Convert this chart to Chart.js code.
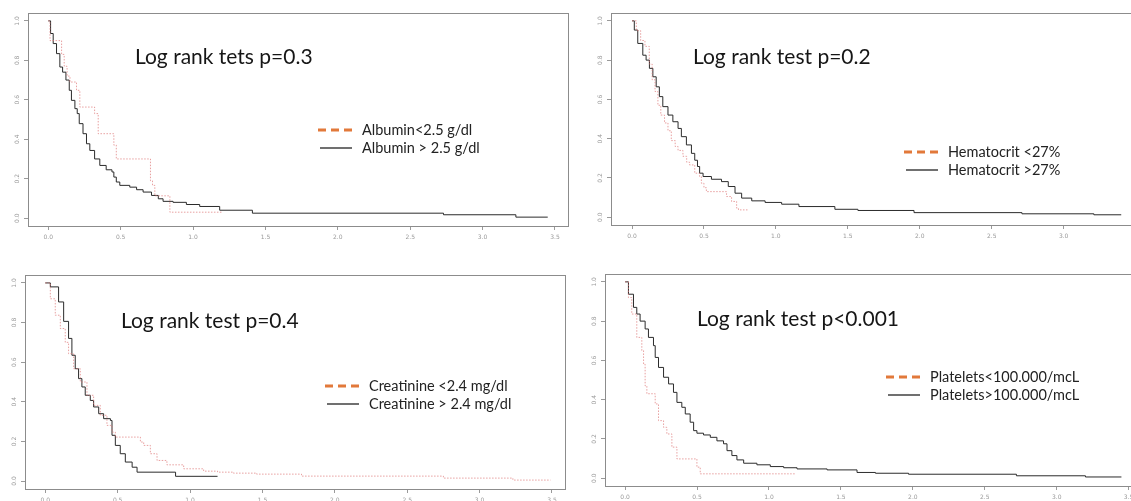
<!DOCTYPE html>
<html>
<head>
<meta charset="utf-8">
<script src="https://cdn.jsdelivr.net/npm/chart.js@4"></script>
<style>
  html, body { margin: 0; padding: 0; background: #fff; overflow: hidden; width: 1131px; height: 501px; }
  canvas { position: absolute; }
  .note { position: absolute; font-family: Lato, "Open Sans", sans-serif; color: #161616; white-space: nowrap; }
  .title { font-size: 21px; line-height: 24px; }
  .leg { font-size: 14.5px; line-height: 16px; color: #222; }
  svg { position: absolute; overflow: visible; }
</style>
</head>
<body>
<script>
// shared axis ticks
const xTicks = [0, 0.5, 1, 1.5, 2, 2.5, 3, 3.5];
const yTicks = [0, 0.2, 0.4, 0.6, 0.8, 1];

const titles = ['Log rank tets p=0.3', 'Log rank test p=0.2', 'Log rank test p=0.4', 'Log rank test p<0.001'];
const lowLabels = ['Albumin<2.5 g/dl', 'Hematocrit <27%', 'Creatinine <2.4 mg/dl', 'Platelets<100.000/mcL'];
const highLabels = ['Albumin > 2.5 g/dl', 'Hematocrit >27%', 'Creatinine > 2.4 mg/dl', 'Platelets>100.000/mcL'];

// Albumin
const albLowT = [0, 0.012, 0.092, 0.11, 0.13, 0.15, 0.195, 0.218, 0.32, 0.345, 0.453, 0.47, 0.706, 0.72, 0.736, 0.84, 1.2];
const albLowS = [1, 0.9, 0.83, 0.77, 0.72, 0.69, 0.648, 0.563, 0.53, 0.428, 0.37, 0.30, 0.19, 0.166, 0.113, 0.03, 0.03];
const albHighT = [0, 0.016, 0.034, 0.057, 0.08, 0.099, 0.122, 0.145, 0.16, 0.184, 0.2, 0.214, 0.24, 0.264, 0.287, 0.32, 0.356, 0.40, 0.44, 0.453, 0.47, 0.494, 0.563, 0.61, 0.655, 0.713, 0.76, 0.793, 0.862, 0.954, 1.046, 1.184, 1.41, 2.73, 3.23, 3.45];
const albHighS = [1, 0.936, 0.885, 0.834, 0.766, 0.74, 0.70, 0.648, 0.597, 0.555, 0.53, 0.479, 0.428, 0.377, 0.343, 0.30, 0.267, 0.245, 0.234, 0.208, 0.183, 0.166, 0.157, 0.144, 0.132, 0.115, 0.098, 0.085, 0.080, 0.069, 0.059, 0.04, 0.025, 0.017, 0.005, 0.005];

// Hematocrit
const hctLowT = [0, 0.03, 0.06, 0.09, 0.12, 0.14, 0.16, 0.18, 0.2, 0.226, 0.25, 0.273, 0.3, 0.32, 0.354, 0.38, 0.40, 0.436, 0.47, 0.482, 0.50, 0.517, 0.657, 0.692, 0.727, 0.74, 0.81];
const hctLowS = [1, 0.95, 0.9, 0.87, 0.78, 0.7, 0.64, 0.57, 0.52, 0.48, 0.44, 0.39, 0.36, 0.34, 0.31, 0.28, 0.266, 0.224, 0.207, 0.173, 0.15, 0.13, 0.105, 0.08, 0.046, 0.037, 0.037];
const hctHighT = [0, 0.016, 0.04, 0.075, 0.098, 0.121, 0.145, 0.168, 0.19, 0.214, 0.25, 0.284, 0.32, 0.343, 0.378, 0.413, 0.436, 0.455, 0.47, 0.494, 0.552, 0.622, 0.669, 0.716, 0.762, 0.832, 0.925, 1.04, 1.16, 1.41, 1.57, 1.96, 2.71, 3.21, 3.4];
const hctHighS = [1, 0.953, 0.885, 0.825, 0.8, 0.758, 0.715, 0.664, 0.614, 0.563, 0.52, 0.486, 0.452, 0.41, 0.368, 0.325, 0.29, 0.258, 0.224, 0.207, 0.193, 0.181, 0.156, 0.122, 0.097, 0.083, 0.075, 0.066, 0.054, 0.04, 0.034, 0.023, 0.017, 0.012, 0.012];

// Creatinine
const creLowT = [0, 0.035, 0.069, 0.104, 0.138, 0.161, 0.196, 0.242, 0.288, 0.334, 0.38, 0.426, 0.461, 0.484, 0.657, 0.68, 0.726, 0.772, 0.84, 0.956, 1.094, 1.19, 1.3, 1.46, 1.77, 2.75, 3.23, 3.49];
const creLowS = [1, 0.92, 0.837, 0.77, 0.70, 0.643, 0.567, 0.50, 0.433, 0.382, 0.332, 0.281, 0.247, 0.222, 0.197, 0.18, 0.138, 0.104, 0.082, 0.062, 0.05, 0.045, 0.04, 0.035, 0.025, 0.015, 0.005, 0.005];
const creHighT = [0, 0.035, 0.092, 0.127, 0.161, 0.184, 0.207, 0.23, 0.253, 0.276, 0.311, 0.334, 0.369, 0.403, 0.45, 0.461, 0.484, 0.518, 0.553, 0.6, 0.634, 0.9, 1.19];
const creHighS = [1, 0.98, 0.904, 0.806, 0.72, 0.635, 0.567, 0.517, 0.475, 0.433, 0.407, 0.374, 0.34, 0.315, 0.306, 0.231, 0.18, 0.138, 0.096, 0.07, 0.045, 0.024, 0.024];

// Platelets
const pltLowT = [0, 0.023, 0.046, 0.081, 0.116, 0.128, 0.139, 0.151, 0.209, 0.232, 0.267, 0.29, 0.325, 0.36, 0.499, 0.522, 1.18];
const pltLowS = [1, 0.92, 0.836, 0.717, 0.65, 0.58, 0.47, 0.43, 0.378, 0.293, 0.259, 0.225, 0.158, 0.098, 0.056, 0.022, 0.022];
const pltHighT = [0, 0.023, 0.058, 0.081, 0.104, 0.139, 0.162, 0.197, 0.209, 0.232, 0.267, 0.302, 0.336, 0.36, 0.394, 0.418, 0.452, 0.476, 0.499, 0.545, 0.592, 0.638, 0.684, 0.708, 0.742, 0.777, 0.824, 0.916, 1.009, 1.102, 1.195, 1.404, 1.612, 1.74, 1.97, 2.72, 3.2, 3.45];
const pltHighS = [1, 0.937, 0.87, 0.836, 0.80, 0.76, 0.717, 0.675, 0.615, 0.564, 0.514, 0.48, 0.437, 0.386, 0.361, 0.327, 0.285, 0.242, 0.229, 0.22, 0.208, 0.19, 0.175, 0.14, 0.115, 0.093, 0.076, 0.068, 0.059, 0.053, 0.047, 0.042, 0.029, 0.025, 0.02, 0.012, 0.006, 0.006];

// page layout: canvas box, plot area, x range, title & legend anchors
const layout = [
  { cx: 0, cy: 0, cw: 575, ch: 252, area: { l: 28, t: 13, r: 568, b: 226 }, xMin: -0.14, xMax: 3.59, title: [135, 56], legend: [318, 130] },
  { cx: 575, cy: 0, cw: 600, ch: 252, area: { l: 611, t: 13, r: 1150, b: 225 }, xMin: -0.146, xMax: 3.6, title: [693, 56], legend: [904, 152] },
  { cx: 0, cy: 252, cw: 575, ch: 249, area: { l: 25, t: 275, r: 565, b: 489 }, xMin: -0.14, xMax: 3.59, title: [121, 320], legend: [325, 386] },
  { cx: 575, cy: 252, cw: 600, ch: 249, area: { l: 605, t: 274, r: 1143, b: 486 }, xMin: -0.14, xMax: 3.6, title: [697, 318], legend: [886, 377] }
];

const series = [
  [albLowT, albLowS, albHighT, albHighS],
  [hctLowT, hctLowS, hctHighT, hctHighS],
  [creLowT, creLowS, creHighT, creHighS],
  [pltLowT, pltLowS, pltHighT, pltHighS]
];

const pts = (t, s) => t.map((x, i) => ({ x: x, y: s[i] }));

// box round the plot + y labels turned like R's
const frameAndLabels = {
  id: 'frameAndLabels',
  afterDraw(chart) {
    const { ctx, chartArea: a, scales: { y } } = chart;
    ctx.save();
    ctx.strokeStyle = '#8c8c8c';
    ctx.lineWidth = 1;
    ctx.strokeRect(Math.round(a.left) + 0.5, Math.round(a.top) + 0.5, Math.round(a.right - a.left), Math.round(a.bottom - a.top));
    ctx.fillStyle = '#9a9a9a';
    ctx.font = '6px "DejaVu Sans"';
    ctx.textAlign = 'center';
    ctx.textBaseline = 'middle';
    y.ticks.forEach(t => {
      ctx.save();
      ctx.translate(a.left - 11, y.getPixelForValue(t.value));
      ctx.rotate(-Math.PI / 2);
      ctx.fillText(t.value.toFixed(1), 0, 0);
      ctx.restore();
    });
    ctx.restore();
  }
};

function kmChart(i) {
  const L = layout[i];
  const [lowT, lowS, highT, highS] = series[i];
  const cv = document.createElement('canvas');
  cv.width = L.cw; cv.height = L.ch;
  cv.style.left = L.cx + 'px'; cv.style.top = L.cy + 'px';
  document.body.appendChild(cv);

  new Chart(cv.getContext('2d'), {
    type: 'line',
    data: {
      datasets: [
        { label: lowLabels[i], data: pts(lowT, lowS), stepped: true, borderColor: 'rgba(222,120,120,0.7)', borderWidth: 1, borderDash: [1.5, 1.5], pointRadius: 0, fill: false },
        { label: highLabels[i], data: pts(highT, highS), stepped: true, borderColor: '#2b2b2b', borderWidth: 1, pointRadius: 0, fill: false }
      ]
    },
    options: {
      responsive: false,
      animation: false,
      devicePixelRatio: 1,
      layout: { padding: { left: 0, top: L.area.t - L.cy, right: L.cx + L.cw - L.area.r, bottom: 0 } },
      plugins: { legend: { display: false }, tooltip: { enabled: false } },
      scales: {
        x: {
          type: 'linear', min: L.xMin, max: L.xMax,
          afterBuildTicks: s => { s.ticks = xTicks.map(v => ({ value: v })); },
          afterFit: s => { s.height = L.cy + L.ch - L.area.b; },
          ticks: { callback: v => v.toFixed(1), font: { size: 6, family: 'DejaVu Sans' }, color: '#9a9a9a', padding: 4, maxRotation: 0, autoSkip: false },
          grid: { drawOnChartArea: false, tickLength: 4, color: '#9a9a9a' },
          border: { display: false }
        },
        y: {
          type: 'linear', min: -0.04, max: 1.04,
          afterBuildTicks: s => { s.ticks = yTicks.map(v => ({ value: v })); },
          afterFit: s => { s.width = L.area.l - L.cx; },
          ticks: { display: false },
          grid: { drawOnChartArea: false, tickLength: 4, color: '#9a9a9a' },
          border: { display: false }
        }
      }
    },
    plugins: [frameAndLabels]
  });

  // title
  const ti = document.createElement('div');
  ti.className = 'note title';
  ti.textContent = titles[i];
  ti.style.left = L.title[0] + 'px';
  ti.style.top = (L.title[1] - 12) + 'px';
  document.body.appendChild(ti);

  // legend (orange dashes, black line)
  [[lowLabels[i], 0], [highLabels[i], 18]].forEach(([txt, dy], k) => {
    const y = L.legend[1] + dy;
    const sv = document.createElementNS('http://www.w3.org/2000/svg', 'svg');
    sv.setAttribute('width', 36); sv.setAttribute('height', 4);
    sv.style.left = L.legend[0] + 'px'; sv.style.top = (y - 2) + 'px';
    sv.innerHTML = k === 0
      ? '<line x1="0" y1="2" x2="34" y2="2" stroke="#e2793a" stroke-width="2.8" stroke-dasharray="8 5"/>'
      : '<line x1="2" y1="2" x2="34" y2="2" stroke="#222" stroke-width="1.3"/>';
    document.body.appendChild(sv);
    const lg = document.createElement('div');
    lg.className = 'note leg';
    lg.textContent = txt;
    lg.style.left = (L.legend[0] + 44) + 'px';
    lg.style.top = (y - 8) + 'px';
    document.body.appendChild(lg);
  });
}

for (let i = 0; i < 4; i++) kmChart(i);
</script>
</body>
</html>
